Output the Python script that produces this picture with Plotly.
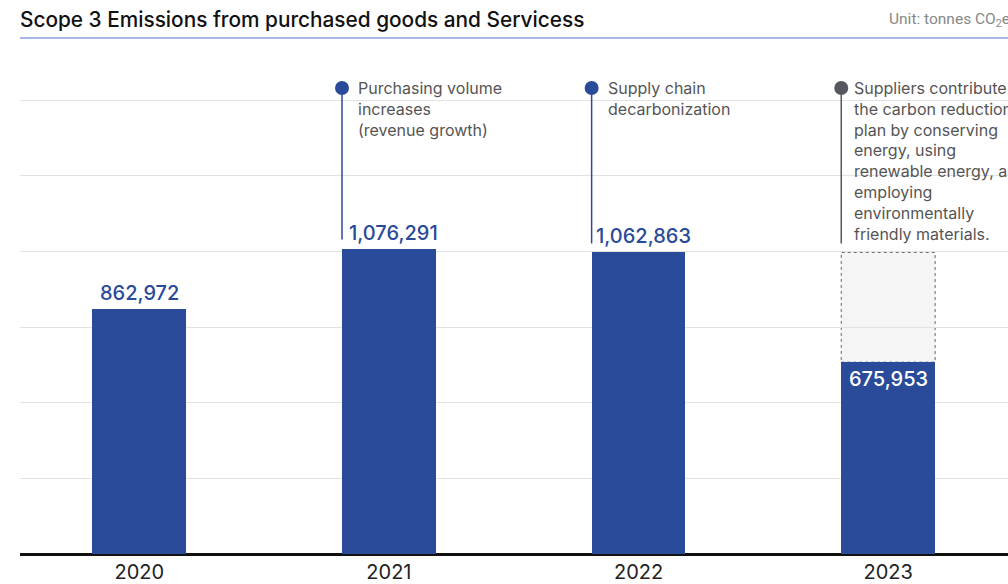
import plotly.graph_objects as go

# Scope 3 (purchased goods & services) emissions, tonnes CO2e
years = ["2020", "2021", "2022", "2023"]
emissions = [862972, 1076291, 1062863, 675953]

# Annotated years with their notes
note_years = ["2021", "2022", "2023"]
note_texts = [
    "Purchasing volume<br>increases<br>(revenue growth)",
    "Supply chain<br>decarbonization",
    "Suppliers contribute to<br>the carbon reduction<br>plan by conserving<br>energy, using<br>renewable energy, and<br>employing<br>environmentally<br>friendly materials.",
]
note_colors = ["#2a4a9a", "#2a4a9a", "#55585e"]

BAR_COLOR = "#2a4a9a"
BAR_WIDTH = 0.376
FONT = "Inter"

# vertical layout: plot area 45px..554px, grid top at 1.6M
PLOT_TOP, PLOT_BOTTOM, H, W = 45, 554, 584, 1008
units_per_px = 1_600_000 / (PLOT_BOTTOM - 100)
y_max = units_per_px * (PLOT_BOTTOM - PLOT_TOP)
grid_vals = [1_600_000 / 6 * k for k in range(1, 7)]
note_level = units_per_px * (PLOT_BOTTOM - 88)

idx = {y: i for i, y in enumerate(years)}
last, prev = emissions[-1], emissions[-2]

fig = go.Figure()
fig.add_trace(go.Bar(
    x=list(range(len(years))), y=emissions, width=BAR_WIDTH,
    marker=dict(color=BAR_COLOR, line=dict(width=0)),
    hoverinfo="skip",
))

# value labels: above the bar, or inside the top of the 2023 bar
for i, (yr, v) in enumerate(zip(years, emissions)):
    inside = i == len(years) - 1
    fig.add_annotation(
        x=i, y=v, xref="x", yref="y", text=f"{v:,}", showarrow=False,
        xanchor="center", yanchor="top" if inside else "bottom",
        yshift=-3 if inside else 2,
        xshift=5 if (yr in note_years and not inside) else 0,
        font=dict(family=FONT, size=20, weight=500,
                  color="white" if inside else BAR_COLOR),
    )

# 2023 reduction versus the 2022 level, shown as a dotted box
fig.add_shape(type="rect", xref="x", yref="y",
              x0=3 - BAR_WIDTH / 2, x1=3 + BAR_WIDTH / 2, y0=last, y1=prev,
              fillcolor="#f5f5f5", line=dict(color="#666666", width=1, dash="dot"),
              layer="below")

# note markers, leader lines and texts
for yr, txt, col in zip(note_years, note_texts, note_colors):
    i = idx[yr]
    x_left = i - BAR_WIDTH / 2
    top = max(emissions[i], prev) if yr == "2023" else emissions[i]
    line_end = top + 9 * units_per_px
    fig.add_shape(type="line", xref="x", yref="y", x0=x_left, x1=x_left,
                  y0=line_end, y1=note_level, line=dict(color=col, width=1.5))
    fig.add_trace(go.Scatter(x=[x_left], y=[note_level], mode="markers",
                             marker=dict(size=14, color=col), cliponaxis=False,
                             hoverinfo="skip", showlegend=False))
    fig.add_annotation(x=x_left, y=note_level, xref="x", yref="y",
                       xanchor="left", yanchor="top",
                       xshift=11 if yr == "2023" else 14, yshift=12,
                       text=txt, align="left", showarrow=False,
                       font=dict(family=FONT, size=16, color="#555555"))

# title rule
rule_y = (PLOT_BOTTOM - 38) / (PLOT_BOTTOM - PLOT_TOP)
fig.add_shape(type="line", xref="paper", yref="paper", x0=0, x1=1.02,
              y0=rule_y, y1=rule_y, line=dict(color="#8c9fe0", width=1.5))

fig.add_annotation(xref="paper", yref="paper", x=1.0, xshift=4,
                   y=(PLOT_BOTTOM - 20) / (PLOT_BOTTOM - PLOT_TOP),
                   xanchor="right", yanchor="middle", showarrow=False,
                   text="Unit: tonnes CO<sub>2</sub>e",
                   font=dict(family="Roboto", size=15.5, color="#888888"))

fig.update_layout(
    width=W, height=H,
    margin=dict(l=20, r=0, t=PLOT_TOP, b=H - PLOT_BOTTOM),
    paper_bgcolor="white", plot_bgcolor="white",
    showlegend=False, bargap=0,
    title=dict(text="Scope 3 Emissions from purchased goods and Servicess",
               x=20 / W, xanchor="left", y=1 - 20 / H, yanchor="middle",
               font=dict(family=FONT, size=20.8, color="#111111", weight=500)),
    xaxis=dict(range=[-0.478, 3.48], tickvals=list(range(len(years))),
               ticktext=years, showgrid=False, zeroline=False, showline=False,
               ticks="", ticklabelstandoff=4,
               tickfont=dict(family=FONT, size=20, color="#222222")),
    yaxis=dict(range=[0, y_max], tickvals=grid_vals, showticklabels=False,
               showgrid=True, gridcolor="#e2e2e2", gridwidth=1,
               zeroline=True, zerolinecolor="#111111", zerolinewidth=3,
               showline=False, ticks=""),
)

fig.write_html("out.html")
